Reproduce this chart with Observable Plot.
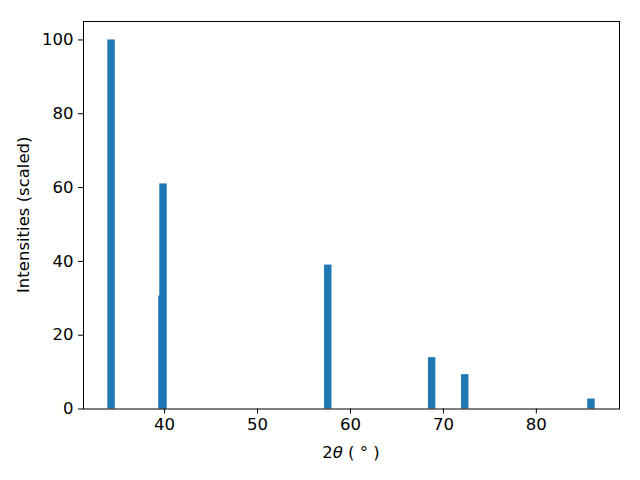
<!DOCTYPE html>
<html>
<head>
<meta charset="utf-8">
<script src="https://cdn.jsdelivr.net/npm/d3@7"></script>
<script src="https://cdn.jsdelivr.net/npm/@observablehq/plot@0.6"></script>
<style>
  html, body { margin: 0; padding: 0; background: white; }
  svg { display: block; }
</style>
</head>
<body>
<div id="chart"></div>
<script>
const peakPositions = [34.29, 39.76, 39.88, 57.61, 68.79, 72.35, 85.93];
const peakIntensities = [100, 30.6, 61.0, 39.0, 13.9, 9.3, 2.7];
const xTicks = [40, 50, 60, 70, 80];
const yTicks = [0, 20, 40, 60, 80, 100];
const barWidth = 0.8;

const data = peakPositions.map((p, i) => ({x1: p - barWidth / 2, x2: p + barWidth / 2, y: peakIntensities[i]}));

const W = 640, H = 480;
const mL = 83, mR = 21, mT = 21, mB = 71.5;

const plot = Plot.plot({
  width: W,
  height: H,
  marginLeft: mL,
  marginRight: mR,
  marginTop: mT,
  marginBottom: mB,
  style: {fontFamily: "DejaVu Sans", fontSize: "16.5px", color: "black", background: "white"},
  x: {domain: [31.27, 88.95]},
  y: {domain: [0, 105]},
  marks: [
    Plot.rectY(data, {x1: "x1", x2: "x2", y: "y", fill: "#1f77b4"}),
    Plot.frame({stroke: "black", strokeWidth: 1}),
    Plot.axisX({ticks: xTicks, tickSize: 5, tickPadding: 4, label: null, stroke: "black"}),
    Plot.axisY({ticks: yTicks, tickSize: 5, tickPadding: 5, label: null, stroke: "black"})
  ]
});
document.getElementById("chart").appendChild(plot);

const svg = d3.select(plot);
// x label
const xl = svg.append("text")
  .attr("x", mL + (W - mL - mR) / 2)
  .attr("y", 458)
  .attr("text-anchor", "middle")
  .attr("font-family", "DejaVu Sans")
  .attr("font-size", "16.5px")
  .attr("fill", "black");
xl.append("tspan").text("2");
xl.append("tspan").attr("font-style", "italic").text("θ");
xl.append("tspan").text(" ( ° )");
// y label
svg.append("text")
  .attr("transform", `translate(29,${mT + (H - mT - mB) / 2}) rotate(-90)`)
  .attr("text-anchor", "middle")
  .attr("font-family", "DejaVu Sans")
  .attr("font-size", "16.5px")
  .attr("fill", "black")
  .text("Intensities (scaled)");
</script>
</body>
</html>
